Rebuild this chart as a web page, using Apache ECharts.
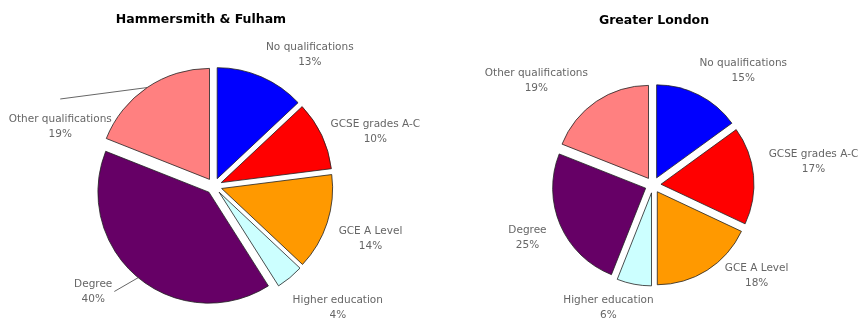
<!DOCTYPE html>
<html><head><meta charset="utf-8">
<script src="https://cdn.jsdelivr.net/npm/echarts@6/dist/echarts.min.js"></script>
<style>html,body{margin:0;padding:0;background:#fff}#c{width:861px;height:324px}</style>
</head><body><div id="c"></div>
<script>
const categories = ['No qualifications','GCSE grades A-C','GCE A Level','Higher education','Degree','Other qualifications'];
const hfValues = [13, 10, 14, 4, 40, 19];
const glValues = [15, 17, 18, 6, 25, 19];
const titles = ['Hammersmith & Fulham', 'Greater London'];
const colors = ['#0000FF','#FF0000','#FF9900','#CCFFFF','#660066','#FF8080'];

const chart = echarts.init(document.getElementById('c'), null, {renderer:'canvas'});

const hfLines = [null,null,null,null,'side','top'];
const hfOff = [[38,-9],[36,2],[25,12],[34,19],[-31,3],[-74,51]];
const glOff = [[33,-12],[41,-12],[37,-6],[-18,10],[-15,7],[-47,-9]];

function series(vals, center, radius, off, lines){
  return {
    type:'pie', center:center, radius:radius, startAngle:90, clockwise:true,
    selectedMode:'multiple', selectedOffset:8, animation:false,
    data: categories.map((c,i)=>({name:c, value:vals[i], selected:true})),
    itemStyle:{borderColor:'#222', borderWidth:0.8},
    label:{show:true, position:'outside', formatter: p=>p.name+'\n'+p.value+'%', overflow:'none',
      fontFamily:'DejaVu Sans', fontSize:10.5, color:'#666', lineHeight:15, align:'center'},
    labelLine:{show:!!lines, length:14, length2:0, lineStyle:{color:'#666', width:1}},
    labelLayout: function(p){
      const o = off[p.dataIndex];
      const r = p.labelRect;
      const anchorX = (r.x + r.width/2 > center[0]) ? r.x : r.x + r.width;
      const cxl = anchorX + o[0];
      const cyl = r.y + r.height/2 + o[1];
      const res = {align:'center', dx:o[0], dy:o[1], hideOverlap:false};
      const kind = lines ? lines[p.dataIndex] : null;
      const pts = p.labelLinePoints;
      if (kind && pts) {
        if (kind === 'top') res.labelLinePoints = [pts[0], [cxl, r.y + o[1] - 13]];
        else res.labelLinePoints = [pts[0], [cxl + r.width/2 + 2, cyl]];
      } else if (pts) {
        res.labelLinePoints = [pts[0], pts[0]];
      }
      return res;
    },
    emphasis:{disabled:true}
  };
}

const titleStyle = {fontFamily:'DejaVu Sans', fontSize:12.5, fontWeight:'bold', color:'#000'};
chart.setOption({
  color: colors,
  title:[
    {text:titles[0], left:196, top:8, textAlign:'center', textStyle:titleStyle},
    {text:titles[1], left:649, top:9, textAlign:'center', textStyle:titleStyle}
  ],
  series:[
    series(hfValues, [214,186], 111, hfOff, hfLines),
    series(glValues, [653,185], 93, glOff, null)
  ]
});
</script></body></html>
